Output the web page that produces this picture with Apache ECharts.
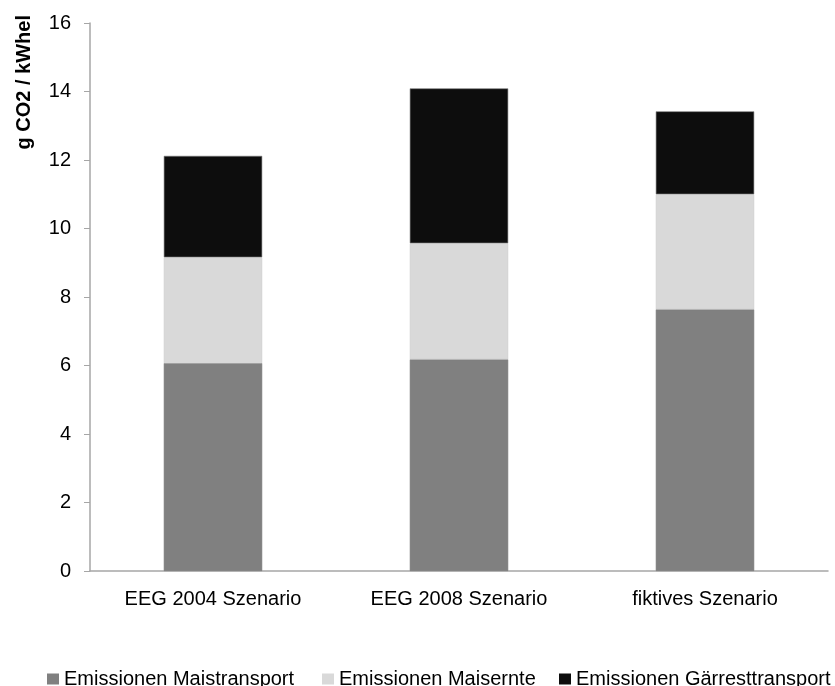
<!DOCTYPE html>
<html>
<head>
<meta charset="utf-8">
<script src="https://cdn.jsdelivr.net/npm/echarts@6/dist/echarts.min.js"></script>
<style>
html,body{margin:0;padding:0;background:#fff;}
#c{width:835px;height:686px;}
</style>
</head>
<body>
<div id="c"></div>
<script>
const categories = ['EEG 2004 Szenario', 'EEG 2008 Szenario', 'fiktives Szenario'];
const seriesNames = ['Emissionen Maistransport', 'Emissionen Maisernte', 'Emissionen Gärresttransport'];
const maistransport = [6.07, 6.18, 7.64];
const maisernte = [3.09, 3.39, 3.36];
const gaerrest = [2.96, 4.52, 2.42];
const yTicks = [0, 2, 4, 6, 8, 10, 12, 14, 16];
const yLabel = 'g CO2 / kWhel';

const colors = ['#808080', '#d9d9d9', '#0d0d0d'];
const font = 'Liberation Sans, Arial, sans-serif';
const values = [maistransport, maisernte, gaerrest];

const chart = echarts.init(document.getElementById('c'), null, {renderer: 'canvas'});
const legendLefts = [42, 317, 554];
chart.setOption({
  animation: false,
  backgroundColor: '#ffffff',
  grid: {left: 90, right: 7, top: 23, bottom: 115, containLabel: false},
  legend: seriesNames.map((n, i) => ({
    data: [n],
    left: legendLefts[i],
    top: 664,
    itemWidth: 12,
    itemHeight: 11,
    itemGap: 0,
    icon: 'rect',
    itemStyle: {borderWidth: 0},
    textStyle: {fontFamily: font, fontSize: 20, color: '#000'}
  })),
  xAxis: {
    type: 'category',
    data: categories,
    axisLine: {lineStyle: {color: '#a6a6a6', width: 1.5}},
    axisTick: {show: false},
    axisLabel: {fontFamily: font, fontSize: 20, color: '#000', margin: 18}
  },
  yAxis: {
    type: 'value',
    min: yTicks[0],
    max: yTicks[yTicks.length - 1],
    interval: 2,
    axisLine: {show: true, lineStyle: {color: '#a6a6a6', width: 1.5}},
    axisTick: {show: true, length: 6, lineStyle: {color: '#a6a6a6'}},
    splitLine: {show: false},
    axisLabel: {fontFamily: font, fontSize: 20, color: '#000', margin: 19}
  },
  graphic: [{
    type: 'text',
    left: 14,
    top: 15,
    rotation: Math.PI / 2,
    style: {text: yLabel, font: 'bold 20px ' + font, fill: '#000'}
  }],
  series: seriesNames.map((n, i) => ({
    name: n,
    type: 'bar',
    stack: 'total',
    barWidth: '40%',
    data: values[i],
    itemStyle: {color: colors[i], borderColor: i === 1 ? '#cfcfcf' : '#777', borderWidth: 0.6}
  }))
});
</script>
</body>
</html>
